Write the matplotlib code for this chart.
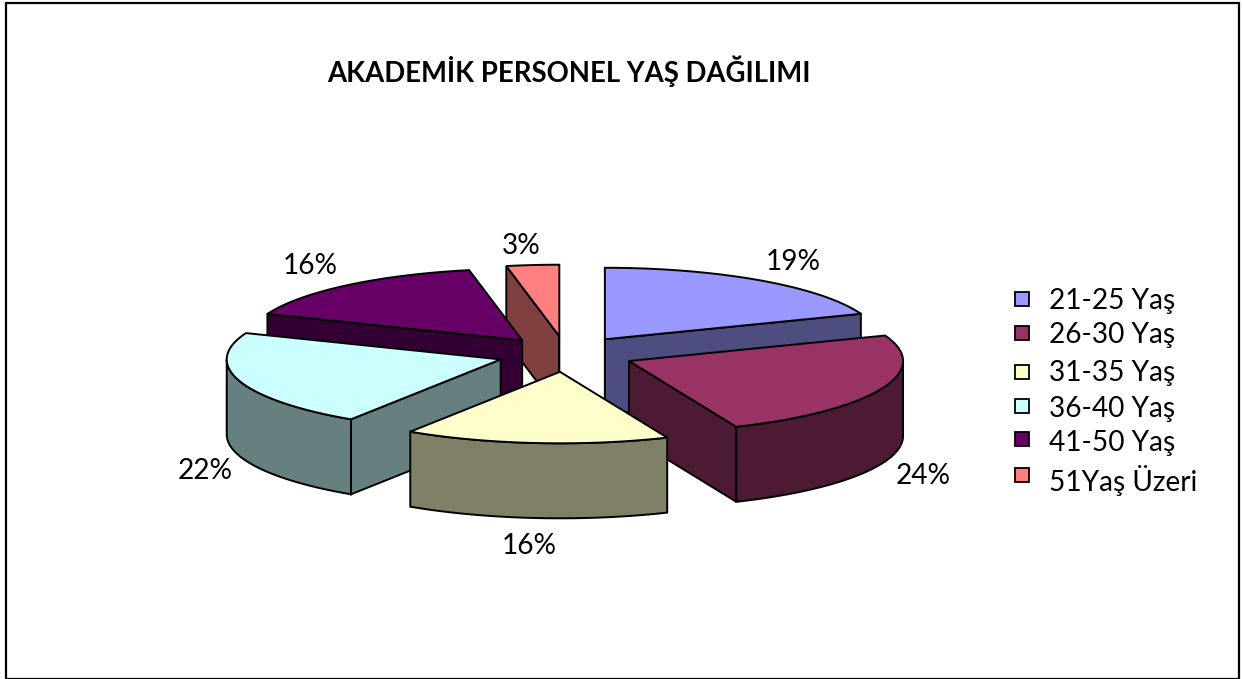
import numpy as np
import matplotlib
matplotlib.use("Agg")
import matplotlib.pyplot as plt
from matplotlib.patches import Rectangle

TITLE = "AKADEMİK PERSONEL YAŞ DAĞILIMI"
categories = ["21-25 Yaş", "26-30 Yaş", "31-35 Yaş", "36-40 Yaş", "41-50 Yaş", "51Yaş Üzeri"]
values = [19.2, 24.4, 15.6, 21.8, 15.9, 3.1]
top_colors = ["#9999FF", "#993366", "#FFFFCC", "#CCFFFF", "#660066", "#FF8080"]

# pixel-space layout of the projected pie
W, H = 1243, 679
CX, CY = 566.0, 354.0
RX, RY = 274.0, 71.5
EXPLODE = 0.25
DEPTH = 75.0
draw_order = [5, 4, 0, 3, 1, 2]
label_pos = [(793, 262), (923, 476), (529, 546), (205, 471), (310, 266), (521, 246)]
swatch_y = [298.5, 332.5, 371.5, 405.5, 438.5, 474.5]
text_y = [300.5, 335.5, 372.5, 408.5, 443.5, 480]
FONT = "Lato"

fig = plt.figure(figsize=(W / 100, H / 100), dpi=100, facecolor="white")
ax = fig.add_axes([0, 0, 1, 1])
ax.set_xlim(0, W)
ax.set_ylim(H, 0)
ax.axis("off")


def darken(hexcol):
    rgb = np.array(matplotlib.colors.to_rgb(hexcol))
    return tuple(rgb * 0.5)


def pt(ax_c, th):
    return ax_c[0] + RX * np.sin(th), ax_c[1] - RY * np.cos(th)


fracs = np.array(values) / np.sum(values)
edges = np.concatenate([[0], np.cumsum(fracs)]) * 2 * np.pi
LW = 1.4
for i in draw_order:
    s, e = edges[i], edges[i + 1]
    mid = (s + e) / 2
    apex = (CX + EXPLODE * RX * np.sin(mid), CY - EXPLODE * RY * np.cos(mid))
    side = darken(top_colors[i])
    # radial walls that face the viewer
    for th, normal in ((s, s - np.pi / 2), (e, e + np.pi / 2)):
        if np.cos(normal) <= 1e-9:
            px, py = pt(apex, th)
            ax.fill([apex[0], px, px, apex[0]],
                    [apex[1], py, py + DEPTH, apex[1] + DEPTH],
                    facecolor=side, edgecolor="black", lw=LW, joinstyle="miter")
    # outer curved wall (only the front half of the rim)
    a, b = max(s, np.pi / 2), min(e, 3 * np.pi / 2)
    if b > a:
        t = np.linspace(a, b, 80)
        x, y = pt(apex, t)
        ax.fill(np.r_[x, x[::-1]], np.r_[y, y[::-1] + DEPTH],
                facecolor=side, edgecolor="black", lw=LW, joinstyle="miter")
    # top face
    t = np.linspace(s, e, 120)
    x, y = pt(apex, t)
    ax.fill(np.r_[apex[0], x], np.r_[apex[1], y],
            facecolor=top_colors[i], edgecolor="black", lw=LW, joinstyle="miter")

for v, (x, y) in zip(values, label_pos):
    ax.text(x, y, f"{round(v)}%", ha="center", va="center", fontsize=20.2, family=FONT, color="black")

for name, col, sy, ty in zip(categories, top_colors, swatch_y, text_y):
    ax.add_patch(Rectangle((1015.5, sy - 7), 14, 14, facecolor=col, edgecolor="black", lw=1.3))
    ax.text(1049, ty, name, ha="left", va="center", fontsize=20.2, family=FONT, color="black")

ax.text(568.5, 71.5, TITLE, ha="center", va="center", fontsize=19.8, family=FONT,
        fontweight="bold", color="black")

ax.add_patch(Rectangle((6.5, 3), 1232.5, 675.5, fill=False, edgecolor="black", lw=1.6))

fig.savefig("out.png", dpi=100, facecolor="white")
